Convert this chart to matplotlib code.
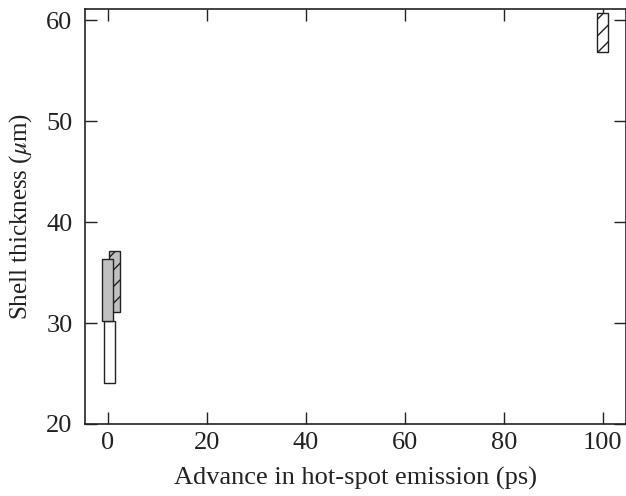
import matplotlib
matplotlib.use("Agg")
import matplotlib.pyplot as plt

plt.rcParams['font.family'] = ['Liberation Serif', 'DejaVu Serif']
plt.rcParams['mathtext.fontset'] = 'stix'
plt.rcParams['hatch.linewidth'] = 1.0

# Data (bar centre, lower and upper shell thickness)
bar_x = [0.4, 1.4, -0.1, 99.9]
bar_low = [24.1, 31.1, 30.2, 56.8]
bar_high = [30.2, 37.1, 36.3, 60.7]
bar_fill = ['white', '#c0c0c0', '#c0c0c0', 'white']
bar_hatch = [None, '//', None, '//']
bar_width = 2.3

xticks = [0, 20, 40, 60, 80, 100]
yticks = [20, 30, 40, 50, 60]

fig = plt.figure(figsize=(6.26, 4.96), dpi=100)
ax = fig.add_axes([85/626, 72/496, 1 - 85/626, (424-9)/496])

for x, lo, hi, fc, h in zip(bar_x, bar_low, bar_high, bar_fill, bar_hatch):
    ax.bar(x, hi - lo, bottom=lo, width=bar_width, color=fc, edgecolor='#222222',
           linewidth=1.0, hatch=h, zorder=2)

ax.set_xlim(-4.6, 104.7)
ax.set_ylim(20, 61.1)
ax.set_xticks(xticks)
ax.set_yticks(yticks)
ax.tick_params(direction='in', length=8.5, width=1.0, top=True, right=True,
               labelsize=19, colors='#222222')
ax.tick_params(axis='x', pad=6)
ax.tick_params(axis='y', pad=9)
for s in ax.spines.values():
    s.set_linewidth(1.2)
    s.set_color('#222222')

ax.set_xlabel('Advance in hot-spot emission (ps)', fontsize=19, color='#222222', labelpad=9)
ax.set_ylabel(r'Shell thickness ($\mu$m)', fontsize=18, color='#222222', labelpad=9)

fig.savefig('out.png', dpi=100)
